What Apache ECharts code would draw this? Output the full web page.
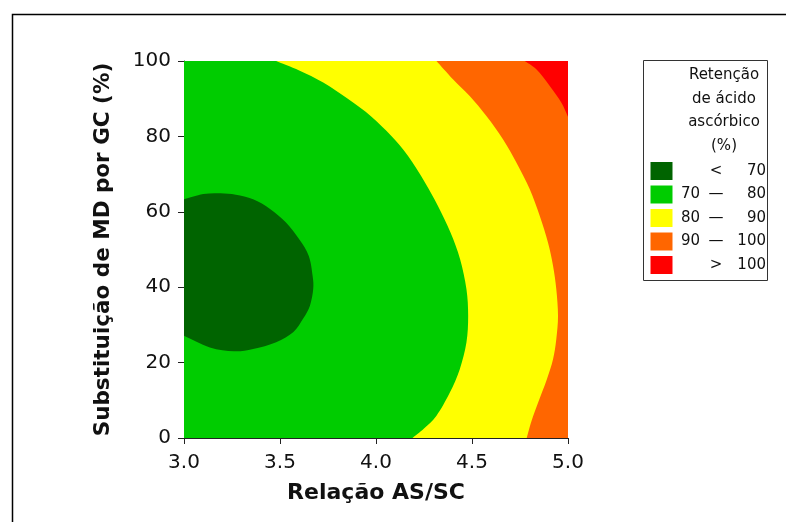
<!DOCTYPE html>
<html>
<head>
<meta charset="utf-8">
<script src="https://cdn.jsdelivr.net/npm/echarts@6/dist/echarts.min.js"></script>
<style>html,body{margin:0;padding:0;background:#fff}#c{width:786px;height:522px}</style>
</head>
<body>
<div id="c"></div>
<script>
// Axis ranges and ticks
var xTicks = [3.0, 3.5, 4.0, 4.5, 5.0];
var yTicks = [0, 20, 40, 60, 80, 100];
var xTitle = 'Relação AS/SC';
var yTitle = 'Substituição de MD por GC (%)';

// Contour boundaries: [Relação AS/SC, Substituição %]
var contour70 = [[3.0,63.3],[3.10,64.7],[3.19,64.9],[3.27,64.5],[3.36,63.3],[3.45,60.7],[3.53,57.2],[3.60,52.7],[3.65,48.3],[3.67,43.0],[3.673,39.5],[3.656,35.1],[3.62,31.6],[3.57,28.1],[3.48,25.4],[3.36,23.6],[3.26,23.0],[3.135,24.0],[3.0,27.1]];
var contour80 = [[3.48,100],[3.60,97.5],[3.725,94.3],[3.855,89.9],[3.975,85.3],[4.08,80.1],[4.167,74.8],[4.255,67.8],[4.322,61.6],[4.388,54.5],[4.438,47.4],[4.471,39.5],[4.48,32.4],[4.471,25.3],[4.436,18.2],[4.384,12.0],[4.315,5.9],[4.25,2.5],[4.19,0]];
var contour90 = [[4.315,100],[4.402,95.1],[4.488,90.7],[4.575,85.4],[4.662,79.2],[4.731,73.1],[4.801,66.0],[4.853,58.9],[4.896,51.8],[4.922,45.7],[4.939,39.5],[4.948,32.4],[4.939,26.2],[4.922,20.9],[4.89,15.6],[4.845,9.5],[4.81,4.5],[4.785,0]];
var contour100 = [[4.774,100],[4.835,97.8],[4.905,93.4],[4.965,89.0],[5.0,85.2]];

// Legend
var legendTitle = ['Retenção', 'de ácido', 'ascórbico', '(%)'];
var legendLow = ['', '70', '80', '90', ''];
var legendSep = ['<', '—', '—', '—', '>'];
var legendHigh = ['70', '80', '90', '100', '100'];
var colors = ['#006400', '#00CC00', '#FFFF00', '#FF6600', '#FF0000'];

var X0 = xTicks[0], X1 = xTicks[xTicks.length-1], Y0 = yTicks[0], Y1 = yTicks[yTicks.length-1];

// region definitions: smooth boundary curve + straight closing edges along the axes
var regions = [
  {curve: [], close: [[X0,Y0],[X1,Y0],[X1,Y1],[X0,Y1]], color: colors[1]},
  {curve: contour80, close: [[X1,Y0],[X1,Y1]], color: colors[2]},
  {curve: contour90, close: [[X1,Y0],[X1,Y1]], color: colors[3]},
  {curve: contour100, close: [[X1,Y1]], color: colors[4]},
  {curve: contour70, close: [], color: colors[0]}
];

function smoothPath(pts) {
  // Catmull-Rom spline through the points, converted to cubic Bezier segments
  var s = 'M' + pts[0][0] + ' ' + pts[0][1];
  for (var i = 0; i < pts.length - 1; i++) {
    var p0 = pts[Math.max(i - 1, 0)], p1 = pts[i], p2 = pts[i + 1], p3 = pts[Math.min(i + 2, pts.length - 1)];
    var c1x = p1[0] + (p2[0] - p0[0]) / 6, c1y = p1[1] + (p2[1] - p0[1]) / 6;
    var c2x = p2[0] - (p3[0] - p1[0]) / 6, c2y = p2[1] - (p3[1] - p1[1]) / 6;
    s += 'C' + c1x + ' ' + c1y + ' ' + c2x + ' ' + c2y + ' ' + p2[0] + ' ' + p2[1];
  }
  return s;
}

var series = regions.map(function (r, i) {
  return {
    type: 'custom',
    coordinateSystem: 'cartesian2d',
    silent: true,
    z: 2 + i,
    clip: true,
    data: r.curve.length ? r.curve : r.close,
    renderItem: function (params, api) {
      if (params.dataIndex !== 0) return null;
      var d, rest;
      if (r.curve.length) {
        d = smoothPath(r.curve.map(function (q) { return api.coord(q); }));
        rest = r.close;
      } else {
        var c0 = api.coord(r.close[0]);
        d = 'M' + c0[0] + ' ' + c0[1];
        rest = r.close.slice(1);
      }
      rest.forEach(function (q) { var c = api.coord(q); d += 'L' + c[0] + ' ' + c[1]; });
      d += 'Z';
      return {type: 'path', shape: {pathData: d}, style: {fill: r.color, stroke: null}};
    }
  };
});

var font = 'DejaVu Sans';
var txt = '#111';
var graphic = [
  {type: 'rect', left: 10, top: 12, shape: {x: 0, y: 0, width: 800, height: 540}, style: {fill: null, stroke: '#000', lineWidth: 1.5}, silent: true, z: 0},
  {type: 'rect', shape: {x: 643.5, y: 60.5, width: 124, height: 220}, style: {fill: '#fff', stroke: '#333', lineWidth: 1}, z: 10}
];
legendTitle.forEach(function (t, i) {
  graphic.push({type: 'text', z: 11, style: {text: t, x: 724, y: 75 + i * 23.7, align: 'center', verticalAlign: 'middle', font: '15px "' + font + '"', fill: txt}});
});
for (var i = 0; i < 5; i++) {
  var yc = 171 + i * 23.5;
  graphic.push({type: 'rect', z: 11, shape: {x: 650.5, y: yc - 9, width: 22, height: 18}, style: {fill: colors[i], stroke: null}});
  graphic.push({type: 'text', z: 11, style: {text: legendLow[i], x: 700, y: yc, align: 'right', verticalAlign: 'middle', font: '15px "' + font + '"', fill: txt}});
  graphic.push({type: 'text', z: 11, style: {text: legendSep[i], x: 716, y: yc, align: 'center', verticalAlign: 'middle', font: '15px "' + font + '"', fill: txt}});
  graphic.push({type: 'text', z: 11, style: {text: legendHigh[i], x: 766, y: yc, align: 'right', verticalAlign: 'middle', font: '15px "' + font + '"', fill: txt}});
}

var chart = echarts.init(document.getElementById('c'), null, {renderer: 'canvas'});
chart.setOption({
  animation: false,
  backgroundColor: '#fff',
  grid: {left: 184, right: 218, top: 61, bottom: 84, containLabel: false},
  xAxis: {
    type: 'value', min: X0, max: X1, interval: 0.5,
    name: xTitle, nameLocation: 'middle', nameGap: 44,
    nameTextStyle: {fontFamily: font, fontWeight: 'bold', fontSize: 22, color: txt},
    axisLine: {show: true, onZero: false, lineStyle: {color: '#222', width: 1}},
    axisTick: {show: true, length: 6, lineStyle: {color: '#222'}},
    axisLabel: {fontFamily: font, fontSize: 20, color: txt, margin: 15, formatter: function (v) { return v.toFixed(1); }},
    splitLine: {show: false}
  },
  yAxis: {
    type: 'value', min: Y0, max: Y1, interval: 20,
    name: yTitle, nameLocation: 'middle', nameGap: 70,
    nameTextStyle: {fontFamily: font, fontWeight: 'bold', fontSize: 21.5, color: txt},
    axisLine: {show: true, onZero: false, lineStyle: {color: '#222', width: 1}},
    axisTick: {show: true, length: 6, lineStyle: {color: '#222'}},
    axisLabel: {fontFamily: font, fontSize: 20, color: txt, margin: 13},
    splitLine: {show: false}
  },
  series: series,
  graphic: graphic
});
</script>
</body>
</html>
